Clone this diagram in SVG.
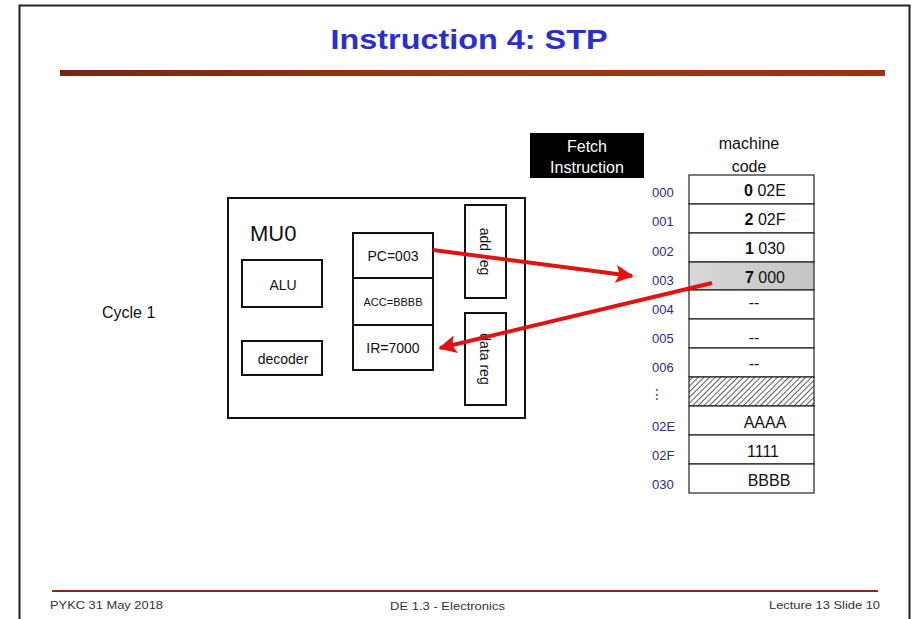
<svg xmlns="http://www.w3.org/2000/svg" width="913" height="619" viewBox="0 0 913 619">
<defs>
<style>
.t{font-family:"Liberation Sans",Arial,sans-serif;fill:#111}
.box{fill:#fff;stroke:#111;stroke-width:2}
.addr{font-family:"Liberation Sans",Arial,sans-serif;font-size:13px;fill:#2b2b8c}
.cell{fill:#fff;stroke:#222;stroke-width:1.2}
.val{font-family:"Liberation Sans",Arial,sans-serif;font-size:16px;fill:#111;text-anchor:middle}
.foot{font-family:"Liberation Sans",Arial,sans-serif;font-size:11px;fill:#333}
.arr{stroke:#e01212;stroke-width:4;fill:none}
</style>
<linearGradient id="bar" x1="0" x2="1" y1="0" y2="0">
<stop offset="0" stop-color="#7a2410"/>
<stop offset="0.5" stop-color="#9a3a12"/>
<stop offset="1" stop-color="#a0300e"/>
</linearGradient>
<linearGradient id="gray" x1="0" x2="1" y1="0" y2="0">
<stop offset="0" stop-color="#d8d8d8"/>
<stop offset="1" stop-color="#c4c4c4"/>
</linearGradient>
<pattern id="hatch" width="4" height="4" patternUnits="userSpaceOnUse" patternTransform="rotate(45)">
<rect width="4" height="4" fill="#fff"/>
<line x1="0" y1="0" x2="0" y2="4" stroke="#333" stroke-width="1.6"/>
</pattern>
<marker id="ah" viewBox="0 0 10 10" refX="9" refY="5" markerWidth="4.5" markerHeight="4.5" orient="auto" markerUnits="strokeWidth">
<path d="M0,0 L10,5 L0,10 L2,5 z" fill="#e01212"/>
</marker>
</defs>
<rect width="913" height="619" fill="#fff"/>
<path d="M19.5,625 V5.5 H909.5 V625" fill="none" stroke="#222" stroke-width="2"/>

<g id="title">
<text x="469" y="49" text-anchor="middle" font-family="Liberation Sans,Arial,sans-serif" font-weight="bold" font-size="28" fill="#2a2ed0" textLength="277" lengthAdjust="spacingAndGlyphs">Instruction 4: STP</text>
<rect x="60" y="70" width="825" height="6" fill="url(#bar)"/>
</g>

<g id="mu0">
<rect class="box" x="228" y="198" width="297" height="220"/>
<text class="t" x="250" y="241" font-size="22">MU0</text>
</g>
<g id="alu">
<rect class="box" x="242" y="260" width="80" height="47"/>
<text class="t" x="283" y="290" font-size="14" text-anchor="middle">ALU</text>
</g>
<g id="decoder">
<rect class="box" x="242" y="341" width="80" height="34"/>
<text class="t" x="283" y="364" font-size="14" text-anchor="middle">decoder</text>
</g>
<g id="pc">
<rect class="box" x="353" y="233" width="80" height="45"/>
<text class="t" x="393" y="261" font-size="14" text-anchor="middle">PC=003</text>
</g>
<g id="acc">
<rect class="box" x="353" y="278" width="80" height="47"/>
<text class="t" x="393" y="306" font-size="11" text-anchor="middle">ACC=BBBB</text>
</g>
<g id="ir">
<rect class="box" x="353" y="325" width="80" height="45"/>
<text class="t" x="393" y="353" font-size="14" text-anchor="middle">IR=7000</text>
</g>
<g id="addreg">
<rect class="box" x="465" y="205" width="41" height="93"/>
<text class="t" transform="translate(480,251.5) rotate(90)" font-size="14" text-anchor="middle">add reg</text>
</g>
<g id="datareg">
<rect class="box" x="465" y="313" width="41" height="92"/>
<text class="t" transform="translate(480,359) rotate(90)" font-size="14" text-anchor="middle">data reg</text>
</g>

<g id="cycle">
<text class="t" x="102" y="318" font-size="16">Cycle 1</text>
</g>

<g id="fetch">
<rect x="530" y="133" width="114" height="45" fill="#000"/>
<text x="587" y="152" font-family="Liberation Sans,Arial,sans-serif" font-size="16" fill="#fff" text-anchor="middle">Fetch</text>
<text x="587" y="173" font-family="Liberation Sans,Arial,sans-serif" font-size="16" fill="#fff" text-anchor="middle">Instruction</text>
</g>

<g id="memory">
<text class="t" x="749" y="149" font-size="16" text-anchor="middle">machine</text>
<text class="t" x="749" y="172" font-size="16" text-anchor="middle">code</text>
<rect class="cell" x="689" y="175" width="125" height="29"/>
<rect class="cell" x="689" y="204" width="125" height="29"/>
<rect class="cell" x="689" y="233" width="125" height="29"/>
<rect x="689" y="262" width="125" height="28" fill="url(#gray)" stroke="#222" stroke-width="1.2"/>
<rect class="cell" x="689" y="290" width="125" height="29"/>
<rect class="cell" x="689" y="319" width="125" height="29"/>
<rect class="cell" x="689" y="348" width="125" height="29"/>
<rect x="689" y="377" width="125" height="29" fill="url(#hatch)" stroke="#222" stroke-width="1.2"/>
<rect class="cell" x="689" y="406" width="125" height="29"/>
<rect class="cell" x="689" y="435" width="125" height="29"/>
<rect class="cell" x="689" y="464" width="125" height="29"/>

<text class="val" x="765" y="196"><tspan font-weight="bold">0</tspan> 02E</text>
<text class="val" x="765" y="225"><tspan font-weight="bold">2</tspan> 02F</text>
<text class="val" x="765" y="254"><tspan font-weight="bold">1</tspan> 030</text>
<text class="val" x="765" y="283"><tspan font-weight="bold">7</tspan> 000</text>
<text class="val" x="754" y="308">--</text>
<text class="val" x="754" y="343">--</text>
<text class="val" x="754" y="369">--</text>
<text class="val" x="765" y="428">AAAA</text>
<text class="val" x="763" y="457">1111</text>
<text class="val" x="769" y="486">BBBB</text>

<text class="addr" x="652" y="197">000</text>
<text class="addr" x="652" y="226">001</text>
<text class="addr" x="652" y="256">002</text>
<text class="addr" x="652" y="285">003</text>
<text class="addr" x="652" y="314">004</text>
<text class="addr" x="652" y="343">005</text>
<text class="addr" x="652" y="372">006</text>
<text x="657" y="399" font-family="DejaVu Sans,sans-serif" font-size="14" fill="#2b2b8c" text-anchor="middle">⋮</text>
<text class="addr" x="652" y="431">02E</text>
<text class="addr" x="652" y="460">02F</text>
<text class="addr" x="652" y="489">030</text>
</g>

<g id="connectors">
<line class="arr" x1="433" y1="250" x2="632" y2="276" marker-end="url(#ah)"/>
<line class="arr" x1="712" y1="283" x2="440" y2="348" marker-end="url(#ah)"/>
</g>

<g id="footer">
<line x1="52" y1="591" x2="878" y2="591" stroke="#8a2a14" stroke-width="2"/>
<text class="foot" x="50" y="609" textLength="113" lengthAdjust="spacingAndGlyphs">PYKC  31 May 2018</text>
<text class="foot" x="390" y="610" textLength="115" lengthAdjust="spacingAndGlyphs">DE 1.3 - Electronics</text>
<text class="foot" x="769" y="609" textLength="111" lengthAdjust="spacingAndGlyphs">Lecture 13  Slide 10</text>
</g>
</svg>
